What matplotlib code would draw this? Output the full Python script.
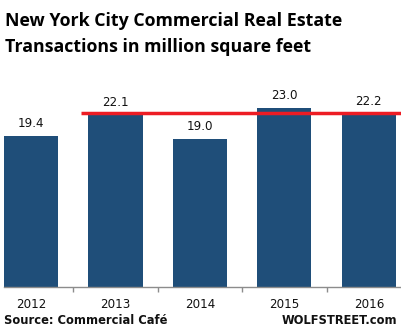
import matplotlib
matplotlib.use("Agg")
import matplotlib.pyplot as plt
import numpy as np

years = ["2012", "2013", "2014", "2015", "2016"]
values = [19.4, 22.1, 19.0, 23.0, 22.2]
red_level = 22.3
red_start = 0.59

title_lines = ["New York City Commercial Real Estate", "Transactions in million square feet"]
source = "Source: Commercial Café"
brand = "WOLFSTREET.com"

W, H = 401, 336
fig = plt.figure(figsize=(W / 100, H / 100), dpi=100)

# axes in pixel coordinates
ax_left, ax_right = 4, 401
ax_top, ax_bottom = 100, 287
ax = fig.add_axes([ax_left / W, 1 - ax_bottom / H, (ax_right - ax_left) / W, (ax_bottom - ax_top) / H])

x = np.arange(len(years))
ax.bar(x, values, width=0.64, color="#1f4e79", zorder=2)
xmin, xmax = -0.32, 4.38
ax.set_xlim(xmin, xmax)
ax.set_ylim(0, (ax_bottom - ax_top) / 7.783)

ax.plot([red_start, xmax], [red_level, red_level], color="#ed1c24", lw=2.5, zorder=3,
        solid_capstyle="butt", clip_on=False)

for xi, v in zip(x, values):
    ax.annotate(f"{v:.1f}", (xi, v), xytext=(0, 8.8), textcoords="offset points",
                ha="center", va="center", fontsize=8.6, family="DejaVu Sans", color="#111111")

for s in ["top", "right", "left"]:
    ax.spines[s].set_visible(False)
ax.spines["bottom"].set_color("#8c8c8c")
ax.spines["bottom"].set_linewidth(1.0)
ax.set_yticks([])
ax.set_xticks(x[:-1] + 0.5)
ax.set_xticklabels([])
ax.tick_params(axis="x", length=3.5, color="#8c8c8c", width=1.0)
label_y = -(305 - ax_bottom) / (ax_bottom - ax_top)
for xi, lab in zip(x, years):
    ax.text(xi, label_y, lab, transform=ax.get_xaxis_transform(), ha="center", va="center",
            fontsize=8.6, family="DejaVu Sans", color="#111111")

for i, line in enumerate(title_lines):
    fig.text(5 / W, 1 - (26.5 + 26 * i) / H, line, ha="left", va="baseline", fontsize=12.8,
             fontweight="bold", family="Open Sans", color="#000000")
fig.text(4 / W, 1 - 321 / H, source, ha="left", va="center", fontsize=8.3, fontweight="bold",
         family="DejaVu Sans", color="#111111")
fig.text(397 / W, 1 - 321 / H, brand, ha="right", va="center", fontsize=8.3, fontweight="bold",
         family="DejaVu Sans", color="#111111")

fig.savefig("out.png", dpi=100)
